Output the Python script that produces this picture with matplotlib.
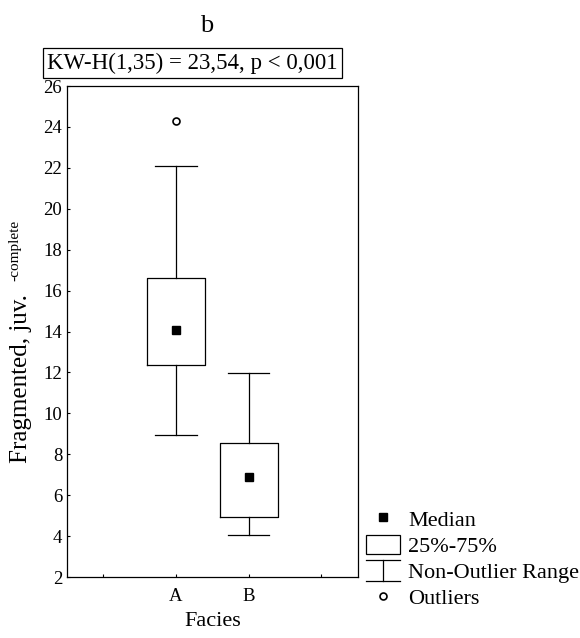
import matplotlib
matplotlib.use('Agg')
import matplotlib.pyplot as plt
from matplotlib.lines import Line2D
from matplotlib.patches import Rectangle
from matplotlib.legend_handler import HandlerBase

plt.rcParams['font.family'] = ['Liberation Serif', 'DejaVu Serif']

# values
categories = ['A', 'B']
positions = [1.5, 2.5]
q1 = [12.35, 4.95]
q3 = [16.6, 8.55]
medians = [14.05, 6.88]
whisker_lo = [8.95, 4.05]
whisker_hi = [22.1, 11.95]
outliers = [[24.3], []]
yticks = list(range(2, 27, 2))


# legend symbol for the non-outlier range (an I-beam)
class WhiskerHandler(HandlerBase):
    def create_artists(self, legend, orig_handle, xdescent, ydescent,
                       width, height, fontsize, trans):
        x0, x1 = -xdescent, -xdescent + width
        xm = (x0 + x1) / 2
        y0, y1 = -ydescent - 0.05 * height, -ydescent + 1.05 * height
        segs = [Line2D([x0, x1], [y1, y1]), Line2D([x0, x1], [y0, y0]),
                Line2D([xm, xm], [y0, y1])]
        for s in segs:
            s.set_color('black')
            s.set_linewidth(0.9)
            s.set_transform(trans)
        return segs


fig = plt.figure(figsize=(5.8, 6.38), dpi=100)
ax = fig.add_axes([0.1155, 0.0956, 0.501, 0.7696])

# build the box stats
stats = []
for i in range(len(categories)):
    stats.append({'med': medians[i], 'q1': q1[i], 'q3': q3[i],
                  'whislo': whisker_lo[i], 'whishi': whisker_hi[i],
                  'fliers': outliers[i]})

line_kw = dict(color='black', linewidth=0.9)
ax.bxp(stats, positions=positions, widths=0.8, capwidths=0.57,
       boxprops=line_kw, whiskerprops=line_kw, capprops=line_kw,
       medianprops=dict(linewidth=0),
       flierprops=dict(marker='o', markersize=5, markerfacecolor='white',
                       markeredgecolor='black', markeredgewidth=1.2),
       manage_ticks=False)
ax.plot(positions, medians, 's', color='black', markersize=6, zorder=5)

# axes
ax.set_xlim(0, 4)
ax.set_ylim(2, 26)
ax.set_xticks([0.5, 1.5, 2.5, 3.5])
ax.set_xticklabels([''] + categories + [''])
ax.set_yticks(yticks)
ax.tick_params(direction='in', length=2.5, width=0.8, labelsize=13.5)
ax.tick_params(axis='x', pad=8)
for sp in ax.spines.values():
    sp.set_linewidth(0.9)

ax.set_xlabel('Facies', fontsize=16, labelpad=5)

# y label with its raised suffix
fig.text(0.037, 0.4067, 'Fragmented, juv.', fontsize=18, rotation=90,
         ha='center', va='center')
fig.text(0.026, 0.608, '-complete', fontsize=11, rotation=90,
         ha='center', va='center')

# title and test result
fig.text(0.357, 0.959, 'b', fontsize=19, ha='center', va='center')
fig.text(0.332, 0.901, 'KW-H(1,35) = 23,54, p < 0,001', fontsize=16.5,
         ha='center', va='center',
         bbox=dict(boxstyle='square,pad=0.2', facecolor='white',
                   edgecolor='black', linewidth=0.9))

# legend
h_med = Line2D([], [], marker='s', linestyle='none', color='black', markersize=6)
h_box = Rectangle((0, 0), 1, 1, facecolor='white', edgecolor='black', linewidth=0.9)
h_whisk = object()
h_out = Line2D([], [], marker='o', linestyle='none', markerfacecolor='white',
               markeredgecolor='black', markeredgewidth=1.2, markersize=5)
fig.legend([h_med, h_box, h_whisk, h_out],
           ['Median', '25%-75%', 'Non-Outlier Range', 'Outliers'],
           handler_map={h_whisk: WhiskerHandler()},
           loc='upper left', bbox_to_anchor=(0.631, 0.203), frameon=False,
           fontsize=16, handlelength=1.53, handleheight=0.95,
           handletextpad=0.36, labelspacing=0.18, borderpad=0, borderaxespad=0)

fig.savefig('out.png', dpi=100)
